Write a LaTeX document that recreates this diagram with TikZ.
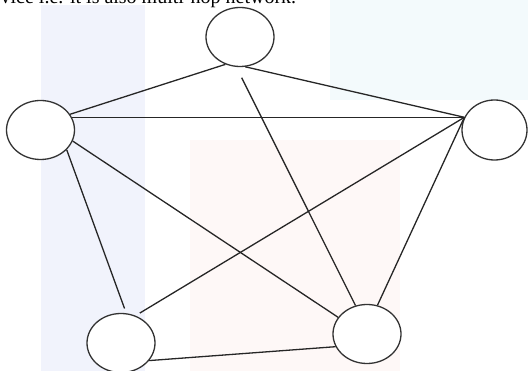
\documentclass[tikz,border=0pt]{standalone}
\usepackage{fontspec}
\setmainfont{Liberation Serif}
\usetikzlibrary{shapes.geometric}

\definecolor{bandblue}{RGB}{241,243,252}
\definecolor{softpink}{RGB}{254,248,247}
\definecolor{softcyan}{RGB}{243,250,252}

\begin{document}
\begin{tikzpicture}[x=1pt, y=-1pt, line width=1.3pt,
    station/.style={ellipse, draw=black!80, fill=white, minimum width=68pt, minimum height=59pt, inner sep=0pt},
    link/.style={draw=black!85}]
  \useasboundingbox (0,0) rectangle (528,371);
  \clip (0,0) rectangle (528,371);
  % faint watermark behind the figure
  \fill[softcyan] (330,0) rectangle (528,100);
  \fill[softpink] (190,140) rectangle (400,371);
  \fill[bandblue] (41,5) rectangle (145,371);
  % cut-off line of text above
  \node[anchor=base west, inner sep=0pt, font=\fontsize{20}{24}\selectfont] (cap) at (0,4) {vice i.e. it is also multi-hop network.};
  % stations
  \node[station] (T) at (240,37) {};
  \node[station] (L) at (40.5,130) {};
  \node[station, minimum width=65pt, minimum height=60pt] (R) at (494.5,130) {};
  \node[station] (BL) at (121,343) {};
  \node[station] (BR) at (367,334) {};
  \coordinate (H) at (L.22 -| R.157);
  % links
  \draw[link] (T.242) -- (L.28);
  \draw[link] (T.280) -- (H);
  \draw[link, shorten <=12pt] (T.263) -- (BR.112);
  \draw[link] (L.22) -- (H);
  \draw[link] (L.341) -- (BR.150);
  \draw[link, shorten >=5pt] (L.323) -- (BL.80);
  \draw[link, shorten >=5pt] (H) -- (BL.62);
  \draw[link] (H) -- (BR.70);
  \draw[link] (BL.328) -- (BR.202);
\end{tikzpicture}
\end{document}
